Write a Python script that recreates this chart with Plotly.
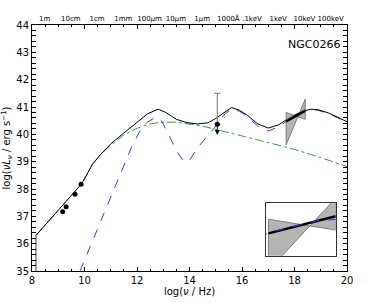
import plotly.graph_objects as go

# ---- data ----
total_x = [8.15, 8.6, 9.0, 9.5, 9.9, 10.1, 10.3, 10.6, 11.0, 11.5, 12.0, 12.4, 12.8, 13.1, 13.5,
           13.9, 14.3, 14.7, 15.0, 15.3, 15.6, 15.9, 16.2, 16.6, 17.0, 17.4, 17.8, 18.2, 18.6,
           18.9, 19.3, 19.7, 20.0]
total_y = [36.3, 36.79, 37.22, 37.77, 38.2, 38.55, 38.9, 39.25, 39.65, 40.05, 40.45, 40.75, 40.92,
           40.8, 40.55, 40.43, 40.38, 40.42, 40.58, 40.78, 40.98, 40.88, 40.7, 40.38, 40.23, 40.35,
           40.6, 40.8, 40.92, 40.9, 40.78, 40.6, 40.46]

host_x = [8.15, 8.6, 9.0, 9.5, 9.9, 10.1, 10.3, 10.6, 11.0, 11.5, 12.0, 12.4, 12.8, 13.5, 14.0,
          14.5, 15.0, 16.0, 17.0, 18.0, 19.0, 20.0]
host_y = [36.3, 36.79, 37.22, 37.77, 38.2, 38.55, 38.9, 39.25, 39.6, 39.98, 40.22, 40.36, 40.43,
          40.45, 40.38, 40.3, 40.18, 39.95, 39.7, 39.45, 39.15, 38.82]

agn_x = [9.83, 10.2, 10.6, 11.0, 11.4, 11.8, 12.1, 12.4, 12.7, 12.9, 13.2, 13.5, 13.8, 14.0, 14.3,
         14.6, 15.0, 15.3, 15.6, 15.9, 16.2, 16.6, 17.0, 17.4, 17.8, 18.2, 18.6, 18.9, 19.3, 19.7, 20.0]
agn_y = [35.0, 35.85, 36.75, 37.7, 38.65, 39.55, 40.1, 40.45, 40.62, 40.55, 40.0, 39.4, 38.98, 39.05,
         39.5, 39.85, 40.3, 40.7, 40.93, 40.85, 40.65, 40.3, 40.12, 40.28, 40.55, 40.76, 40.9, 40.88,
         40.76, 40.58, 40.45]

cut_x = [8.15, 8.15]
cut_y = [35.0, 36.3]

radio_x = [9.17, 9.30, 9.64, 9.87]
radio_y = [37.17, 37.35, 37.81, 38.17]

uv_x = [15.06]
uv_y = [40.37]
uv_upper = [41.5]
uv_arrow_to = [39.98]

bow_x = [17.68, 18.41, 18.41, 17.68, 17.68]
bow_y = [40.8, 40.55, 41.29, 39.61, 40.8]
xfit_x = [17.68, 18.41]
xfit_y = [40.47, 40.87]

top_vals = [8.48, 9.48, 10.48, 11.48, 12.48, 13.48, 14.48, 15.48, 16.38, 17.38, 18.38, 19.38]
top_text = ["1m", "10cm", "1cm", "1mm", "100<i>μ</i>m", "10<i>μ</i>m", "1<i>μ</i>m", "1000Å",
            ".1keV", "1keV", "10keV", "100keV"]

FONT = "DejaVu Sans"
BLUE = "#3333ff"
GREEN = "#33a033"

fig = go.Figure()

fig.add_trace(go.Scatter(x=cut_x, y=cut_y, mode="lines", line=dict(color="#888888", width=1.6),
                         showlegend=False))
fig.add_trace(go.Scatter(x=host_x, y=host_y, mode="lines",
                         line=dict(color=GREEN, width=1, dash="dashdot"), showlegend=False))
fig.add_trace(go.Scatter(x=agn_x, y=agn_y, mode="lines",
                         line=dict(color=BLUE, width=1, dash="dash"), showlegend=False))
fig.add_trace(go.Scatter(x=total_x, y=total_y, mode="lines",
                         line=dict(color="black", width=1), showlegend=False))
fig.add_trace(go.Scatter(x=bow_x, y=bow_y, mode="lines", fill="toself",
                         fillcolor="rgba(150,150,150,0.7)", line=dict(color="#666666", width=0.8),
                         showlegend=False))
fig.add_trace(go.Scatter(x=xfit_x, y=xfit_y, mode="lines", line=dict(color="black", width=2.5),
                         showlegend=False))
fig.add_trace(go.Scatter(x=radio_x, y=radio_y, mode="markers",
                         marker=dict(color="black", size=5), showlegend=False))
fig.add_trace(go.Scatter(x=uv_x, y=uv_y, mode="markers", marker=dict(color="black", size=5),
                         error_y=dict(type="data", symmetric=False,
                                      array=[u - v for u, v in zip(uv_upper, uv_y)],
                                      arrayminus=[0], color="#888888", thickness=1.2, width=3),
                         showlegend=False))
fig.add_annotation(x=uv_x[0], y=uv_arrow_to[0], ax=uv_x[0], ay=uv_y[0], xref="x", yref="y",
                   axref="x", ayref="y", showarrow=True, arrowhead=2, arrowsize=1,
                   arrowwidth=1, arrowcolor="black", text="")

# inset
fig.add_trace(go.Scatter(x=bow_x, y=bow_y, mode="lines", fill="toself", xaxis="x2", yaxis="y2",
                         fillcolor="rgba(150,150,150,0.7)", line=dict(color="#666666", width=0.8),
                         showlegend=False))
fig.add_trace(go.Scatter(x=xfit_x, y=xfit_y, mode="lines", xaxis="x2", yaxis="y2",
                         line=dict(color="black", width=2.5), showlegend=False))
fig.add_trace(go.Scatter(x=agn_x, y=agn_y, mode="lines", xaxis="x2", yaxis="y2",
                         line=dict(color=BLUE, width=1, dash="dash"), showlegend=False))

# top axis dummy trace
fig.add_trace(go.Scatter(x=[8, 20], y=[35, 35], mode="lines", xaxis="x3", yaxis="y",
                         line=dict(width=0), hoverinfo="skip", showlegend=False))

axis_common = dict(showgrid=False, zeroline=False, showline=True, linecolor="black",
                   linewidth=1, mirror="allticks", ticks="inside", ticklen=4, automargin=False,
                   tickcolor="black", tickfont=dict(family=FONT, size=10, color="black"))

fig.update_layout(
    width=382, height=302,
    margin=dict(l=32, r=35, t=25, b=31),
    paper_bgcolor="white", plot_bgcolor="white",
    font=dict(family=FONT, size=10, color="black"),
    xaxis=dict(range=[8, 20], dtick=2, tick0=8,
               minor=dict(dtick=0.5, ticks="inside", ticklen=2, tickcolor="black"),
               title=dict(text="log(<i>ν</i> / Hz)", font=dict(family=FONT, size=10), standoff=1),
               **axis_common),
    yaxis=dict(range=[35, 44], dtick=1, tick0=35,
               minor=dict(dtick=0.2, ticks="inside", ticklen=2, tickcolor="black"),
               title=dict(text="log(<i>ν</i><i>L</i><sub><i>ν</i></sub> / erg s<sup>−1</sup>)",
                          font=dict(family=FONT, size=10), standoff=4),
               **axis_common),
    xaxis3=dict(range=[8, 20], overlaying="x", side="top", showgrid=False, zeroline=False,
                showline=False, ticks="", tickvals=top_vals, ticktext=top_text, tickangle=0,
                automargin=False, ticklabelstandoff=2,
                tickfont=dict(family=FONT, size=7, color="black")),
    xaxis2=dict(domain=[0.742, 0.964], anchor="y2", range=[17.65, 18.41], showgrid=False,
                zeroline=False, showticklabels=False, ticks="", showline=True,
                linecolor="#333333", linewidth=1, mirror=True),
    yaxis2=dict(domain=[0.062, 0.275], anchor="x2", range=[39.95, 41.17], showgrid=False,
                zeroline=False, showticklabels=False, ticks="", showline=True,
                linecolor="#333333", linewidth=1, mirror=True),
)

fig.add_annotation(x=0.985, y=0.955, xref="paper", yref="paper", text="NGC0266",
                   showarrow=False, xanchor="right", yanchor="top",
                   font=dict(family=FONT, size=11, color="black"))

fig.write_html("out.html", config={"displayModeBar": False},
               post_script="document.body.style.margin='0px';")
